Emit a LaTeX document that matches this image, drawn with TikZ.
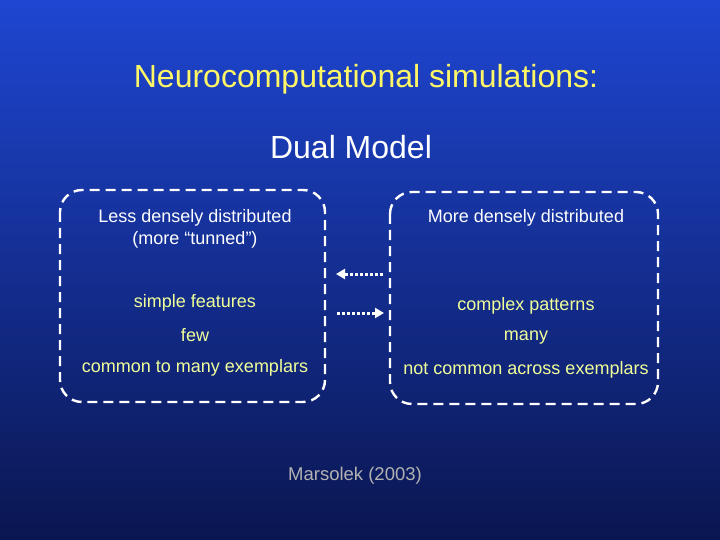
\documentclass[tikz,border=0pt]{standalone}
\usepackage{fontspec}
\setmainfont{Liberation Sans}
\usetikzlibrary{arrows.meta}
\begin{document}
\begin{tikzpicture}[x=1pt,y=-1pt,
  box/.style={draw=white,line width=2.4pt,dash pattern=on 10pt off 6pt,rounded corners=22pt},
  wt/.style={text=white,font=\fontsize{18}{22}\selectfont,align=center},
  gt/.style={text=green!15!yellow!40!white,font=\fontsize{18}{22}\selectfont,align=center},
  arr/.style={draw=white,line width=3pt,dash pattern=on 3pt off 2pt,-{Triangle[length=9pt,width=10pt]}}]
\definecolor{topb}{HTML}{1E46D2}
\definecolor{botb}{HTML}{0A1650}
\shade[top color=topb,bottom color=botb] (0,0) rectangle (720,540);
\useasboundingbox (0,0) rectangle (720,540);
\node[text=yellow!60!white,font=\fontsize{32}{36}\selectfont] (title) at (366,79) {Neurocomputational simulations:};
\node[text=white,font=\fontsize{32}{36}\selectfont] (dual) at (351,147) {Dual Model};
\draw[box] (60,190) rectangle (325,402);
\draw[box] (390,192) rectangle (658,404);
\node[wt] (l1) at (195,229) {Less densely distributed\\(more “tunned”)};
\node[wt] (r1) at (526,218) {More densely distributed};
\node[gt] (l2) at (195,303) {simple features};
\node[gt] (l3) at (195,335) {few};
\node[gt] (l4) at (195,368) {common to many exemplars};
\node[gt] (r2) at (526,306) {complex patterns};
\node[gt] (r3) at (526,338) {many};
\node[gt] (r4) at (526,370) {not common across exemplars};
\coordinate (a1) at (383,274); \coordinate (a2) at (336,274);
\coordinate (b1) at (337,313); \coordinate (b2) at (384,313);
\draw[arr] (a1) -- (a2);
\draw[arr] (b1) -- (b2);
\node[text=gray!60!white,font=\fontsize{18.5}{22}\selectfont] (src) at (355,476) {Marsolek (2003)};
\end{tikzpicture}
\end{document}
